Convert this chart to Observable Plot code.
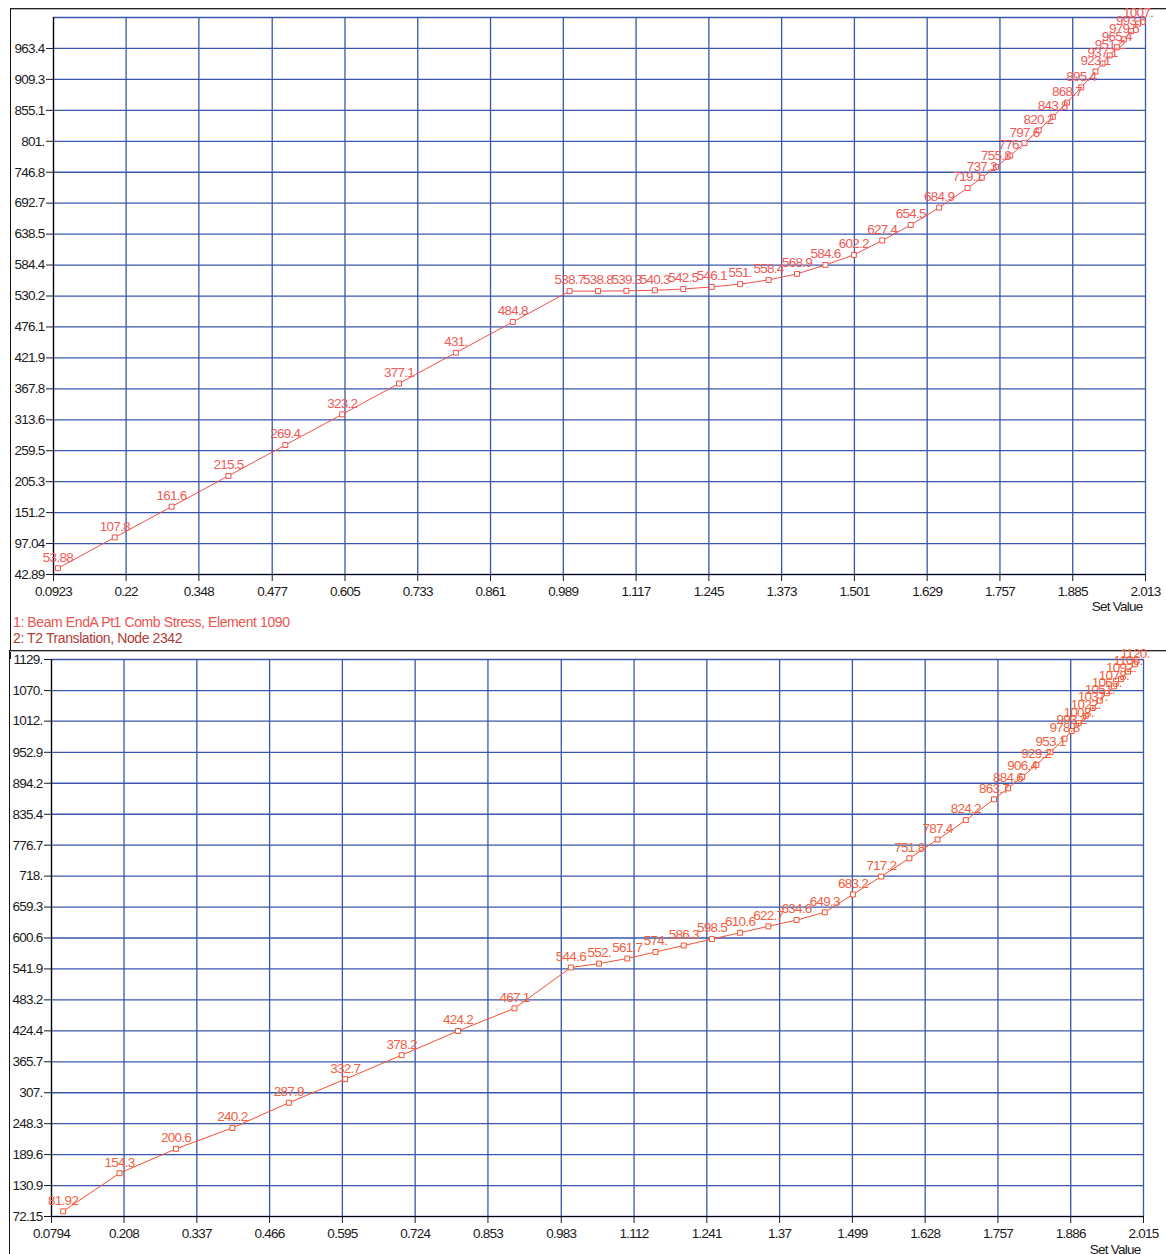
<!DOCTYPE html>
<html>
<head>
<meta charset="utf-8">
<script src="https://cdn.jsdelivr.net/npm/d3@7"></script>
<script src="https://cdn.jsdelivr.net/npm/@observablehq/plot@0.6"></script>
<style>
  body { margin: 0; background: #fff; }
  #page { position: relative; width: 1166px; height: 1254px; overflow: hidden; background: #fff;
          font-family: "Liberation Sans", Arial, sans-serif; }
  .frame { position: absolute; border-left: 1px solid #111; border-top: 1px solid #222;
           box-shadow: inset 0 1px 0 #b5b5b5; }
  .legend { position: absolute; left: 13px; font-size: 14px; letter-spacing: -0.4px; white-space: nowrap; line-height: 16px; }
  .chart { position: absolute; left: 0; }
</style>
</head>
<body>
<div id="page">
  <div class="frame" style="left:10px; top:8px; width:1170px; height:650px;"></div>
  <div class="frame" style="left:9px; top:650px; width:1170px; height:620px;"></div>
  <div id="top" class="chart" style="top:0px;"></div>
  <div id="bottom" class="chart" style="top:645px;"></div>
  <div class="legend" style="top:614px; color:#ea5350;">1: Beam EndA Pt1 Comb Stress, Element 1090</div>
  <div class="legend" style="top:630px; color:#b23c36;">2: T2 Translation, Node 2342</div>
</div>
<script>
// Series 1: Beam EndA Pt1 Comb Stress, Element 1090
const setValues1 = [0.1, 0.2, 0.3, 0.4, 0.5, 0.6, 0.7, 0.8, 0.9, 1.0,
  1.05, 1.1, 1.15, 1.2, 1.25, 1.3, 1.35, 1.4, 1.45, 1.5, 1.55, 1.6, 1.65, 1.7,
  1.725, 1.75, 1.775, 1.8, 1.825, 1.85, 1.875, 1.9, 1.925,
  1.9375, 1.95, 1.9625, 1.975, 1.9875, 2.0];
const stress1 = [53.88, 107.8, 161.6, 215.5, 269.4, 323.2, 377.1, 431, 484.8, 538.7,
  538.8, 539.3, 540.3, 542.5, 546.1, 551, 558.4, 568.9, 584.6, 602.2, 627.4, 654.5, 684.9, 719.1,
  737.3, 755.8, 776, 797.6, 820.2, 843.8, 868.7, 895.4, 923.1,
  937.1, 951.2, 965.4, 979.5, 993.6, 1007];

// Series 2: T2 Translation, Node 2342
const setValues2 = [0.1, 0.2, 0.3, 0.4, 0.5, 0.6, 0.7, 0.8, 0.9, 1.0,
  1.05, 1.1, 1.15, 1.2, 1.25, 1.3, 1.35, 1.4, 1.45, 1.5, 1.55, 1.6, 1.65, 1.7, 1.75,
  1.775, 1.8, 1.825, 1.85, 1.875,
  1.8875, 1.9, 1.9125, 1.925, 1.9375, 1.95, 1.9625, 1.975, 1.9875, 2.0];
const translation2 = [81.92, 154.3, 200.6, 240.2, 287.9, 332.7, 378.2, 424.2, 467.1, 544.6,
  552, 561.7, 574, 586.3, 598.5, 610.6, 622.7, 634.6, 649.3, 683.2, 717.2, 751.8, 787.4, 824.2, 863.7,
  884.6, 906.4, 929.2, 953.1, 978.8,
  993.2, 1008, 1022, 1037, 1051, 1065, 1078, 1092, 1106, 1120];

// Axis ticks
const xTicks1 = [0.0923, 0.22, 0.348, 0.477, 0.605, 0.733, 0.861, 0.989, 1.117, 1.245, 1.373, 1.501, 1.629, 1.757, 1.885, 2.013];
const yTicks1 = [42.89, 97.04, 151.2, 205.3, 259.5, 313.6, 367.8, 421.9, 476.1, 530.2, 584.4, 638.5, 692.7, 746.8, 801, 855.1, 909.3, 963.4];
const yTop1 = 1017.6;

const xTicks2 = [0.0794, 0.208, 0.337, 0.466, 0.595, 0.724, 0.853, 0.983, 1.112, 1.241, 1.37, 1.499, 1.628, 1.757, 1.886, 2.015];
const yTicks2 = [72.15, 130.9, 189.6, 248.3, 307, 365.7, 424.4, 483.2, 541.9, 600.6, 659.3, 718, 776.7, 835.4, 894.2, 952.9, 1012, 1070, 1129];

const GRID = "#3a56ad";

// four significant digits, whole numbers keep a trailing point ("801.")
function fmt(v) {
  const s = String(+v.toPrecision(4));
  return s.includes(".") ? s : s + ".";
}

function chart({xs, ys, xTicks, yTicks, yGridTop, xDomain, yDomain, color, labelColor, height, margins, labelDy}) {
  const pts = xs.map((x, i) => ({x, y: ys[i]}));
  const grid = yGridTop != null ? [...yTicks, yGridTop] : yTicks;
  return Plot.plot({
    width: 1166,
    height,
    ...margins,
    x: {domain: xDomain},
    y: {domain: yDomain},
    style: {fontFamily: "'Liberation Sans', Arial, sans-serif", fontSize: "13.5px", letterSpacing: "-0.75px",
            background: "transparent", overflow: "visible", color: "#1a1a1a"},
    marks: [
      Plot.ruleX(xTicks, {stroke: GRID, strokeWidth: 1.3}),
      Plot.ruleY(grid, {stroke: GRID, strokeWidth: 1.3}),
      Plot.ruleX([xDomain[0]], {stroke: "#000", strokeWidth: 1.2}),
      Plot.ruleY([yDomain[0]], {stroke: "#000", strokeWidth: 1.2}),
      Plot.axisX(xTicks, {tickSize: 7, tickPadding: 5, tickFormat: d => String(d), label: null}),
      Plot.axisY(yTicks, {tickSize: 7, tickPadding: 2, tickFormat: fmt, label: null}),
      Plot.line(pts, {x: "x", y: "y", stroke: color, strokeWidth: 1}),
      Plot.dot(pts, {x: "x", y: "y", symbol: "square", r: 2.8, fill: "white", stroke: color, strokeWidth: 1}),
      Plot.text(pts, {x: "x", y: "y", text: d => fmt(d.y), dy: -11, fill: labelColor}),
      Plot.text(["Set Value"], {frameAnchor: "bottom-right", dx: -3, dy: labelDy, textAnchor: "end", fill: "#1a1a1a"})
    ]
  });
}

document.getElementById("top").appendChild(chart({
  xs: setValues1, ys: stress1, xTicks: xTicks1, yTicks: yTicks1, yGridTop: yTop1,
  xDomain: [0.0923, 2.013], yDomain: [42.89, yTop1],
  color: "#f0504c", labelColor: "#f05a58",
  height: 620, margins: {marginLeft: 53, marginRight: 21, marginTop: 17, marginBottom: 46},
  labelDy: 36
}));

document.getElementById("bottom").appendChild(chart({
  xs: setValues2, ys: translation2, xTicks: xTicks2, yTicks: yTicks2, yGridTop: null,
  xDomain: [0.0794, 2.015], yDomain: [72.15, 1129],
  color: "#f5502e", labelColor: "#f2603e",
  height: 609, margins: {marginLeft: 51, marginRight: 23, marginTop: 14, marginBottom: 38},
  labelDy: 37
}));
</script>
</body>
</html>
